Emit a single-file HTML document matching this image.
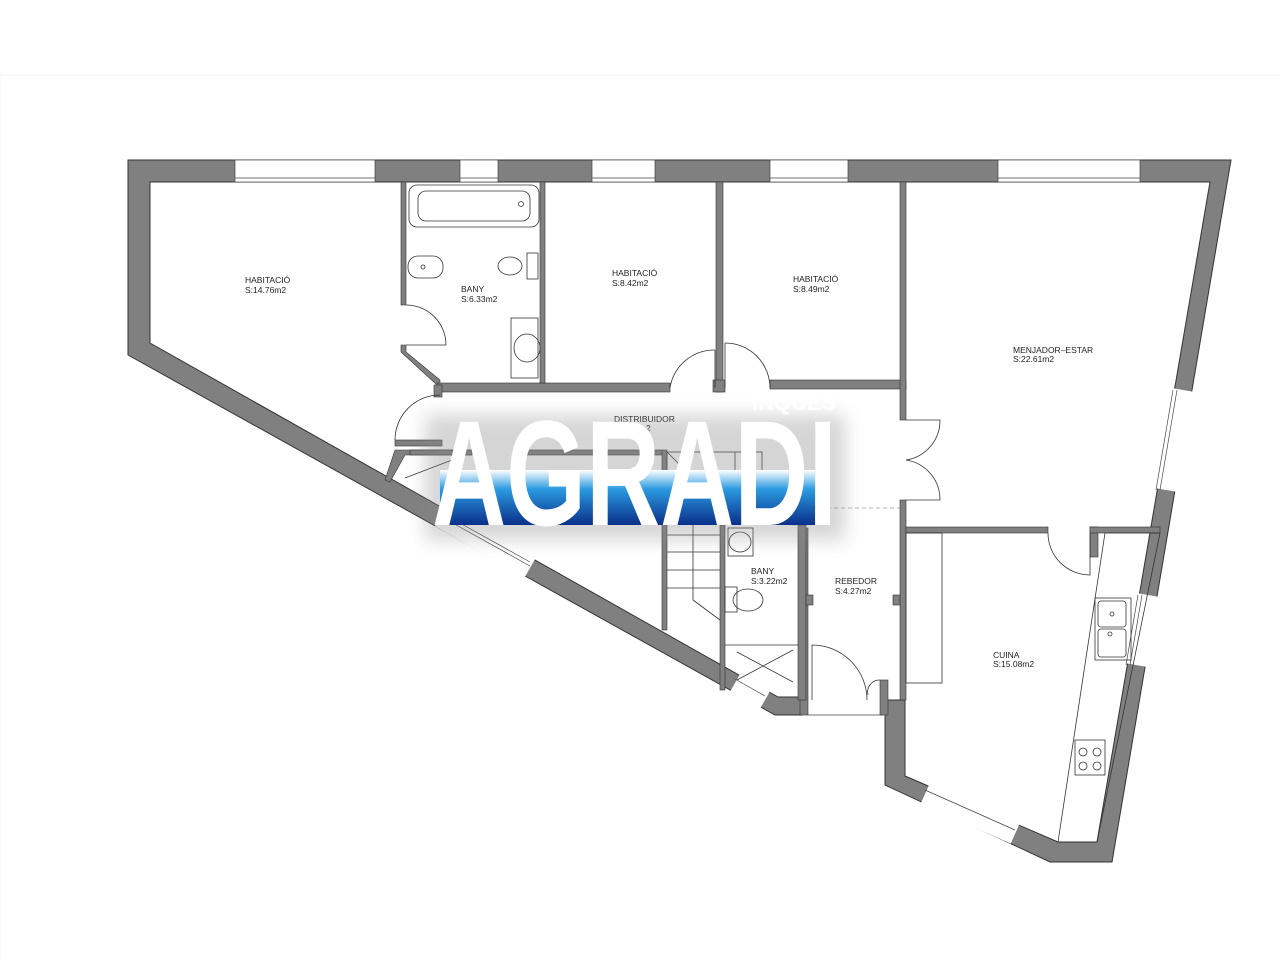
<!DOCTYPE html>
<html><head><meta charset="utf-8"><style>
html,body{margin:0;padding:0;background:#fff;}
svg{display:block;}
text{font-family:"Liberation Sans",sans-serif;fill:#222;}
</style></head><body>
<svg width="1280" height="960" viewBox="0 0 1280 960" xmlns="http://www.w3.org/2000/svg">
<defs>
<linearGradient id="bl" x1="0" y1="0" x2="0" y2="1">
<stop offset="0" stop-color="#ffffff"/><stop offset="0.35" stop-color="#2a9ae0"/><stop offset="1" stop-color="#0a2f8a"/>
</linearGradient>
<filter id="sh" x="-20%" y="-30%" width="140%" height="160%"><feGaussianBlur stdDeviation="9"/></filter>
</defs>
<rect width="1280" height="960" fill="#fff"/>
<line x1="0" y1="75" x2="1280" y2="75" stroke="#f0f0f0"/>
<line x1="0" y1="75" x2="0" y2="960" stroke="#f4f4f4"/>

<!-- outer walls -->
<polygon points="128,160 1231,160 1112,862 1050,862 885,785 885,715 808,715 775,715 128,355" fill="#808080" stroke="#333" stroke-width="1"/>
<polygon points="150,182 1210,182 1097,842 1058,842 905,776 905,700 885,700 885,715 808,715 808,697 778,697 150,343" fill="#fff" stroke="#333" stroke-width="1"/>
<rect x="803" y="697" width="82" height="19" fill="#fff"/>
<line x1="808" y1="715" x2="885" y2="715" stroke="#444" stroke-width="0.8"/>
<rect x="800" y="528" width="8" height="187" fill="#808080" stroke="#333" stroke-width="0.6"/>
<rect x="880" y="680" width="8" height="35" fill="#808080" stroke="#333" stroke-width="0.6"/>

<!-- top windows -->
<g fill="#fff" stroke="#444" stroke-width="0.7">
<rect x="235" y="160" width="140" height="22"/><rect x="460" y="160" width="38" height="22"/>
<rect x="592" y="160" width="63" height="22"/><rect x="770" y="160" width="78" height="22"/>
<rect x="998" y="160" width="142" height="22"/>
</g>
<g stroke="#444" stroke-width="0.7">
<line x1="235" y1="178" x2="375" y2="178"/><line x1="460" y1="178" x2="498" y2="178"/>
<line x1="592" y1="178" x2="655" y2="178"/><line x1="770" y1="178" x2="848" y2="178"/>
<line x1="998" y1="178" x2="1140" y2="178"/>
</g>
<!-- slanted windows -->
<g stroke-linecap="butt">
<line x1="440" y1="517" x2="530" y2="568" stroke="#fff" stroke-width="21"/>
<line x1="735" y1="683" x2="765" y2="700" stroke="#fff" stroke-width="21"/>
<line x1="925" y1="794" x2="1015" y2="834" stroke="#fff" stroke-width="21"/>
<line x1="1183" y1="390" x2="1166" y2="490" stroke="#fff" stroke-width="21"/>
<line x1="1148" y1="595" x2="1136" y2="665" stroke="#fff" stroke-width="21"/>
</g>
<g stroke="#444" stroke-width="0.7">
<line x1="440" y1="512" x2="530" y2="562"/><line x1="440" y1="516" x2="530" y2="566"/>
<line x1="735" y1="679" x2="765" y2="696"/><line x1="925" y1="790" x2="1015" y2="830"/>
<line x1="1177" y1="390" x2="1160" y2="490"/><line x1="1173" y1="390" x2="1156" y2="490"/>
<line x1="1142" y1="595" x2="1130" y2="665"/><line x1="1138" y1="595" x2="1126" y2="665"/>
</g>

<!-- interior walls -->
<g fill="#808080" stroke="#333" stroke-width="0.6">
<rect x="401" y="182" width="5" height="123"/>
<polygon points="401,345 406,345 406,352 440,380 440,385 437,385 401,352"/>
<rect x="437" y="383" width="233" height="9"/>
<rect x="540" y="182" width="5" height="201"/>
<rect x="716" y="182" width="7" height="210"/>
<rect x="713" y="380" width="12" height="12"/>
<rect x="770" y="380" width="136" height="9"/>
<rect x="900" y="182" width="6" height="238"/>
<rect x="900" y="500" width="6" height="200"/>
<rect x="906" y="527" width="142" height="6"/>
<rect x="1090" y="527" width="8" height="30"/>
<rect x="1090" y="527" width="70" height="6"/>
<rect x="434" y="385" width="8" height="12"/>
<rect x="395" y="440" width="47" height="6"/>
<polygon points="395,450 470,450 470,455 405,455 390,482 385,480"/>
<rect x="410" y="450" width="62" height="5"/>
<rect x="517" y="450" width="145" height="5"/>
<rect x="662" y="450" width="5" height="180"/>
<rect x="720" y="525" width="5" height="165"/>
<rect x="798" y="525" width="8" height="175"/>
<rect x="806" y="595" width="7" height="10"/>
<rect x="893" y="595" width="7" height="10"/>
</g>

<!-- fixtures -->
<g fill="none" stroke="#333" stroke-width="0.8">
<rect x="409" y="185" width="130" height="42" rx="8"/>
<rect x="418" y="191" width="112" height="30" rx="8"/>
<circle cx="521" cy="204" r="2.5"/>
<rect x="408" y="256" width="35" height="22" rx="10"/>
<circle cx="423" cy="267" r="2"/>
<rect x="527" y="253" width="11" height="26"/>
<ellipse cx="510" cy="266" rx="12" ry="9"/>
<rect x="511" y="318" width="27" height="60"/>
<ellipse cx="527" cy="348" rx="13" ry="14"/>
<rect x="728" y="528" width="25" height="28"/><ellipse cx="740" cy="542" rx="11" ry="10"/>
<rect x="725" y="587" width="12" height="25"/><ellipse cx="748" cy="600" rx="15" ry="11"/>
<line x1="725" y1="645" x2="798" y2="645"/>
<line x1="737" y1="652" x2="793" y2="682"/><line x1="737" y1="680" x2="793" y2="650"/>
<!-- stairs -->
<line x1="667" y1="535" x2="720" y2="535"/><line x1="667" y1="552" x2="720" y2="552"/>
<line x1="667" y1="570" x2="720" y2="570"/><line x1="667" y1="588" x2="720" y2="588"/>
<line x1="693" y1="525" x2="693" y2="600"/><line x1="693" y1="600" x2="720" y2="620"/>
<rect x="667" y="452" width="95" height="55"/>
<line x1="667" y1="452" x2="705" y2="490"/><line x1="735" y1="452" x2="735" y2="510"/>
<line x1="405" y1="478" x2="465" y2="455"/>
<!-- kitchen -->
<polygon points="1105,533 1160,533 1097,842 1058,842"/>
<rect x="906" y="533" width="36" height="150"/>
<rect x="1095" y="598" width="36" height="62"/>
<rect x="1098" y="601" width="28" height="26" rx="3"/><rect x="1098" y="629" width="28" height="28" rx="3"/>
<circle cx="1112" cy="614" r="2"/><circle cx="1110" cy="634" r="2"/>
<rect x="1075" y="740" width="30" height="35"/>
<circle cx="1083" cy="752" r="4"/><circle cx="1097" cy="752" r="4"/>
<circle cx="1083" cy="766" r="4"/><circle cx="1097" cy="766" r="4"/>
<!-- doors -->
<path d="M406,305 A40,40 0 0 1 446,345 L406,345"/>
<path d="M440,395 A45,45 0 0 0 395,440"/>
<path d="M670,388 A45,45 0 0 1 715,350"/><line x1="715" y1="350" x2="715" y2="388"/>
<path d="M770,388 A45,45 0 0 0 725,343"/><line x1="725" y1="343" x2="725" y2="388"/>
<path d="M906,420 L940,420 A40,40 0 0 1 906,460"/>
<path d="M906,500 L940,500 A40,40 0 0 0 906,460"/>
<path d="M1048,533 A42,42 0 0 0 1090,575 L1090,533"/>
<path d="M812,645 L812,700 M812,645 A55,55 0 0 1 867,700"/>
<path d="M880,680 A12,12 0 0 0 868,695"/>
<path d="M760,500 A40,40 0 0 0 795,525 L795,500"/>
<line x1="806" y1="508" x2="900" y2="508" stroke-dasharray="4,3" stroke="#999"/>
</g>

<!-- labels -->
<g font-size="8.5">
<text x="245" y="283">HABITACIÓ</text><text x="245" y="293">S:14.76m2</text>
<text x="461" y="292">BANY</text><text x="461" y="302">S:6.33m2</text>
<text x="612" y="276">HABITACIÓ</text><text x="612" y="286">S:8.42m2</text>
<text x="793" y="282">HABITACIÓ</text><text x="793" y="292">S:8.49m2</text>
<text x="1013" y="353">MENJADOR–ESTAR</text><text x="1013" y="362">S:22.61m2</text>
<text x="614" y="422">DISTRIBUIDOR</text><text x="646" y="431">2</text>
<text x="546" y="512">HABIT</text>
<text x="751" y="574">BANY</text><text x="751" y="584">S:3.22m2</text>
<text x="835" y="584">REBEDOR</text><text x="835" y="594">S:4.27m2</text>
<text x="993" y="658">CUINA</text><text x="993" y="667">S:15.08m2</text>
</g>

<!-- watermark -->
<rect x="425" y="415" width="420" height="125" fill="#888" opacity="0.35" filter="url(#sh)"/>
<rect x="440" y="470" width="375" height="55" fill="url(#bl)"/>
<text x="432" y="525" font-size="150" font-weight="bold" textLength="405" lengthAdjust="spacingAndGlyphs" style="fill:#fff">AGRADI</text>
<text x="752" y="410" font-size="22" font-weight="bold" style="fill:#fff">INQUES</text>
</svg>
</body></html>
